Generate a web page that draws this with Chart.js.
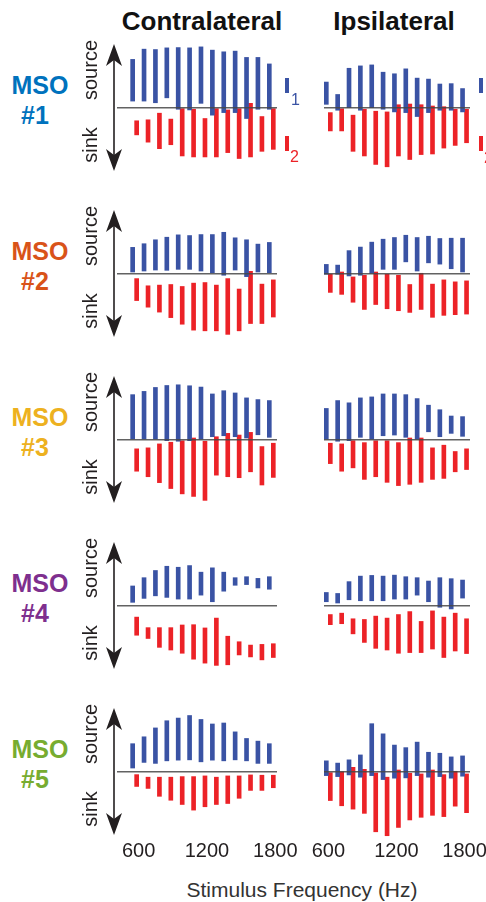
<!DOCTYPE html>
<html><head><meta charset="utf-8">
<script src="https://cdn.jsdelivr.net/npm/chart.js@4/dist/chart.umd.min.js"></script>
<style>
html,body{margin:0;padding:0;background:#fff;}
body{width:486px;height:902px;position:relative;overflow:hidden;font-family:"Liberation Sans",Arial,sans-serif;color:#231f20;}
canvas{position:absolute;}
.t{position:absolute;white-space:nowrap;line-height:1;}
.title{font-weight:bold;font-size:26px;width:240px;text-align:center;color:#111;}
.mso{font-weight:bold;font-size:25px;width:90px;text-align:center;}
.rot{font-size:20px;transform:translate(-50%,-50%) rotate(-90deg);}
.mark{position:absolute;width:3.5px;height:15px;}
.small{font-size:16px;}
</style></head><body>
<script>
// ---------- DATA ----------
const frequencies = [600,700,800,900,1000,1100,1200,1300,1400,1500,1600,1700,1800];
const tickValues = [600,1200,1800];
const rowNames = ['MSO #1','MSO #2','MSO #3','MSO #4','MSO #5'];
const columnNames = ['Contralateral','Ipsilateral'];

// [bottom, top] of each bar, positive = source, negative = sink (arbitrary units)
const mso1ContraSource = [[7,49.3],[7,59.7],[5.3,59.3],[10.3,61],[-1.3,61.3],[-2,61],[4.7,62],[-7.3,58.7],[-4.7,57],[-4.7,57.7],[-10.7,51.3],[-1.3,51.3],[-1.3,44.7]];
const mso1ContraSink   = [[-27.3,-13],[-34.7,-12],[-41.3,-5.3],[-37.3,-11.3],[-48.7,-0.7],[-49.7,-1.3],[-49.7,-10.7],[-49.7,-0.7],[-45.3,-2],[-51.3,-0.7],[-49.7,4.7],[-44,-8.7],[-42,-0.7]];
const mso1IpsiSource   = [[3.7,26.3],[-2.3,13.7],[0.3,40.3],[-2.3,42.7],[0.3,43.7],[-1.3,36.3],[-4,34.7],[-4.7,39.7],[-8.7,30.3],[-4.7,29.3],[-2.3,24.3],[-2.3,24.7],[-4,19.7]];
const mso1IpsiSink     = [[-23.3,-4.7],[-23.3,0],[-44,-7.3],[-48.7,-1.3],[-57.3,-3.3],[-59.7,-4],[-48.7,3.3],[-52.3,4],[-47.3,3.3],[-46.7,2],[-40.7,1.3],[-38,-1.3],[-35.3,-1.3]];

const mso2ContraSource = [[2,27],[3,30.7],[4,34.7],[3.7,37.3],[4.7,39.7],[4.7,39],[3,40],[1.3,40],[-1.3,42.3],[4,36.7],[-2.7,34.7],[2,30.3],[1.3,32]];
const mso2ContraSink   = [[-27,-4.7],[-33.7,-12],[-38.7,-11.3],[-44.3,-10.7],[-51,-12.7],[-57,-9.3],[-57.7,-8.7],[-57.7,-11.3],[-61.3,-4.7],[-57.7,-15.3],[-50.3,2.7],[-50.3,-10.3],[-43.7,-6]];
const mso2IpsiSource   = [[-0.3,9.7],[-0.3,9],[-2,23.7],[-1.3,27.3],[0.7,32.3],[4.7,35.3],[4.7,37],[12.3,39.3],[3,37],[11.3,38.3],[10,36],[5.3,36.3],[2,36.3]];
const mso2IpsiSink     = [[-18.7,-0.3],[-20.7,2],[-28.7,-3],[-36,-1.3],[-31,2],[-35.3,-0.3],[-37.3,-1.3],[-39,-10.7],[-36,0.7],[-44,-10.3],[-42,-6],[-41.3,-8],[-40.7,-7]];

const mso3ContraSource = [[1,46],[1,49.3],[1,53.3],[-0.7,55.3],[-1.3,56],[-0.7,55],[0,53.7],[3.3,46.7],[4.3,50],[3.3,47.7],[2,42.7],[5.3,41],[2.7,40]];
const mso3ContraSink   = [[-31.7,-9],[-37.3,-8],[-43.3,-4],[-49.3,-2.3],[-54.7,0],[-57.3,2],[-61.3,-1.3],[-35.7,3.3],[-37.3,6.7],[-38.3,5],[-32.3,7.7],[-45.7,-6.7],[-38,-3.3]];
const mso3IpsiSource   = [[0,32],[-1.3,40],[-0.7,37.7],[2.7,42.7],[0,43.7],[4.3,46.7],[5,46.7],[2.7,46],[0,42],[8.3,35.3],[3.3,30.7],[6.7,24.3],[3.7,23.7]];
const mso3IpsiSink     = [[-24,-3.3],[-31.7,-4],[-28.3,-0.7],[-40,-2.7],[-37.3,0],[-43,0],[-46.3,-2.7],[-45,2],[-43,2],[-40,-8],[-39,-5.3],[-32.3,-11.7],[-30,-9]];

const mso4ContraSource = [[3.7,20.3],[7.7,28.7],[10.3,36],[8.7,40.3],[7,39.3],[7,41],[11,34.3],[4.3,38.7],[15,34.3],[21,28.7],[21.7,29.7],[18.3,28],[17,29.7]];
const mso4ContraSink   = [[-29.7,-11.3],[-33,-22],[-42,-22],[-44.7,-22],[-48,-19.3],[-54,-19],[-58,-22.3],[-60.3,-12.3],[-59.7,-30.7],[-49.7,-36.3],[-51.7,-39.7],[-54.7,-39],[-52.3,-38.3]];
const mso4IpsiSource   = [[4.3,13.7],[3,12.7],[6.3,24.7],[5.3,30.3],[5.3,31],[5.3,30.3],[7,31.3],[7,29.7],[11,28.7],[4.3,25.3],[-1.3,28.7],[-3,27.7],[8,26.3]];
const mso4IpsiSink     = [[-19,-8.7],[-18,-7.3],[-28.3,-13],[-37,-13.7],[-43,-10.3],[-44.7,-12.3],[-48,-8.7],[-47.3,-5.7],[-47.3,-15.7],[-43.7,-5],[-52.3,-11.3],[-45.7,-7.3],[-48.3,-13]];

const mso5ContraSource = [[4,28.7],[9.7,35.7],[8.7,44.7],[11.3,52],[12,54.7],[12.3,57.3],[10.3,53.3],[12,48.7],[11.3,49.7],[12.3,40.7],[11.3,34],[8.7,31.3],[8.7,28.7]];
const mso5ContraSink   = [[-14.7,-2.7],[-16.7,-5.3],[-24.7,-5.3],[-28.7,-5.3],[-33,-4.7],[-38.7,-4.7],[-35.3,-4],[-33,-5.3],[-32,-4],[-26.7,-4],[-18.7,-3],[-18.7,-3.3],[-16,-3.3]];
const mso5IpsiSource   = [[-3.7,11.3],[-4.7,9],[-3,12.3],[-5.3,17.3],[-3.7,49],[-7.7,38.7],[-6.3,27.3],[-6,24.7],[-3.7,30.3],[-5.3,20],[-4.7,19],[-6.3,15.3],[-4.3,16.3]];
const mso5IpsiSink     = [[-29,-0.7],[-34.3,0.3],[-37.7,4.7],[-42,2.7],[-60.7,-1],[-64.7,-5.3],[-56.3,2],[-48.7,-1.3],[-46,-2],[-44,2],[-45.3,-2.7],[-34.7,0.7],[-41.3,-2]];

// ---------- STYLE / LAYOUT ----------
const msoColors = ['#0072BD','#D95319','#EDB120','#7E2F8E','#77AC30'];
const SOURCE_COLOR = '#3a53a4';
const SINK_COLOR = '#ec2227';
const INK = '#231f20';
const rowBaselines = [108.7, 274.7, 441, 607, 773];
const Y_MAX = 70, Y_MIN = -66, PAD_TOP = 4, CANVAS_H = 166;
const sides = {
  contra: {left:100, width:200, padL:17, padR:23, xMin:445, xMax:1850, labelOffset:4},
  ipsi:   {left:300, width:200, padL:24, padR:30, xMin:562, xMax:1848, labelOffset:0}
};
const panelData = [
  [mso1ContraSource, mso1ContraSink, mso1IpsiSource, mso1IpsiSink],
  [mso2ContraSource, mso2ContraSink, mso2IpsiSource, mso2IpsiSink],
  [mso3ContraSource, mso3ContraSink, mso3IpsiSource, mso3IpsiSink],
  [mso4ContraSource, mso4ContraSink, mso4IpsiSource, mso4IpsiSink],
  [mso5ContraSource, mso5ContraSink, mso5IpsiSource, mso5IpsiSink]
];

const arrowPlugin = {
  id: 'arrow',
  afterDraw(chart, args, opts) {
    if (!opts.show) return;
    const {ctx, chartArea, scales} = chart;
    const x = chartArea.left - 3;
    const yt = scales.y.getPixelForValue(opts.top);
    const yb = scales.y.getPixelForValue(opts.bottom);
    ctx.save();
    ctx.strokeStyle = INK; ctx.fillStyle = INK; ctx.lineWidth = 1.6;
    ctx.beginPath(); ctx.moveTo(x, yt + 12); ctx.lineTo(x, yb - 12); ctx.stroke();
    const head = (tip, dir) => {
      ctx.beginPath();
      ctx.moveTo(x, tip);
      ctx.lineTo(x + 8, tip + dir * 22);
      ctx.lineTo(x, tip + dir * 16);
      ctx.lineTo(x - 8, tip + dir * 22);
      ctx.closePath(); ctx.fill();
    };
    head(yt, 1); head(yb, -1);
    ctx.restore();
  }
};

function addText(html, cls, style) {
  const d = document.createElement('div');
  d.className = 't ' + cls;
  d.innerHTML = html;
  Object.assign(d.style, style);
  document.body.appendChild(d);
  return d;
}

function makeChart(row, sideKey, source, sink) {
  const s = sides[sideKey];
  const cv = document.createElement('canvas');
  cv.width = s.width; cv.height = CANVAS_H;
  cv.style.left = s.left + 'px';
  cv.style.top = (rowBaselines[row] - Y_MAX - PAD_TOP) + 'px';
  cv.style.width = s.width + 'px'; cv.style.height = CANVAS_H + 'px';
  document.body.appendChild(cv);
  const bottomRow = row === rowBaselines.length - 1;
  new Chart(cv, {
    type: 'bar',
    data: {
      labels: frequencies,
      datasets: [
        {label: 'source', data: source, backgroundColor: SOURCE_COLOR, barThickness: 4, borderWidth: 0},
        {label: 'sink', data: sink, backgroundColor: SINK_COLOR, barThickness: 4, borderWidth: 0}
      ]
    },
    options: {
      responsive: false, animation: false, devicePixelRatio: 1,
      layout: {padding: {left: s.padL, right: s.padR, top: PAD_TOP, bottom: 0}},
      plugins: {
        legend: {display: false}, tooltip: {enabled: false},
        arrow: {show: sideKey === 'contra', top: 65, bottom: -64}
      },
      scales: {
        x: {
          type: 'linear', offset: false, min: s.xMin, max: s.xMax,
          grid: {display: false, offset: false, drawTicks: false}, border: {display: false},
          afterBuildTicks: sc => { sc.ticks = tickValues.map(v => ({value: v})); },
          ticks: {
            padding: 2, labelOffset: s.labelOffset, maxRotation: 0, autoSkip: false,
            color: bottomRow ? INK : 'rgba(0,0,0,0)',
            font: {family: '"Liberation Sans", Arial, sans-serif', size: 20},
            callback: v => String(v)
          }
        },
        y: {
          min: Y_MIN, max: Y_MAX,
          afterBuildTicks: sc => { sc.ticks = [{value: 0}]; },
          ticks: {display: false},
          border: {display: false},
          grid: {drawTicks: false, color: 'rgba(70,70,70,0.85)', lineWidth: 1.6, z: 1}
        }
      }
    },
    plugins: [arrowPlugin]
  });
}

// titles
addText(columnNames[0], 'title', {left: (202 - 120) + 'px', top: '8px'});
addText(columnNames[1], 'title', {left: (394 - 120) + 'px', top: '8px'});

rowBaselines.forEach((B, r) => {
  const [cSrc, cSnk, iSrc, iSnk] = panelData[r];
  makeChart(r, 'contra', cSrc, cSnk);
  makeChart(r, 'ipsi', iSrc, iSnk);
  const parts = rowNames[r].split(' ');
  addText(parts[0], 'mso', {left: (40 - 45) + 'px', top: (B - 24 - 12.2) + 'px', color: msoColors[r]});
  addText(parts[1], 'mso', {left: (35 - 45) + 'px', top: (B + 6 - 12.2) + 'px', color: msoColors[r]});
  addText('source', 'rot', {left: '90px', top: (B - 39) + 'px'});
  addText('sink', 'rot', {left: '90px', top: (B + 36) + 'px'});
});

// trace legend marks (row 1)
[285, 479].forEach(x => {
  const b = document.createElement('div'); b.className = 'mark';
  Object.assign(b.style, {left: x + 'px', top: '78px', background: SOURCE_COLOR}); document.body.appendChild(b);
  const r = document.createElement('div'); r.className = 'mark';
  Object.assign(r.style, {left: x + 'px', top: '136px', background: SINK_COLOR}); document.body.appendChild(r);
});
addText('1', 'small', {left: '291px', top: '92px', color: SOURCE_COLOR});
addText('2', 'small', {left: '290px', top: '149px', color: SINK_COLOR});
addText('2', 'small', {left: '484px', top: '150px', color: SINK_COLOR});

// x axis title
addText('Stimulus Frequency (Hz)', '', {fontSize: '21px', color: '#333', width: '300px', textAlign: 'center', left: (302 - 150) + 'px', top: '878.5px'});
</script>
</body></html>
